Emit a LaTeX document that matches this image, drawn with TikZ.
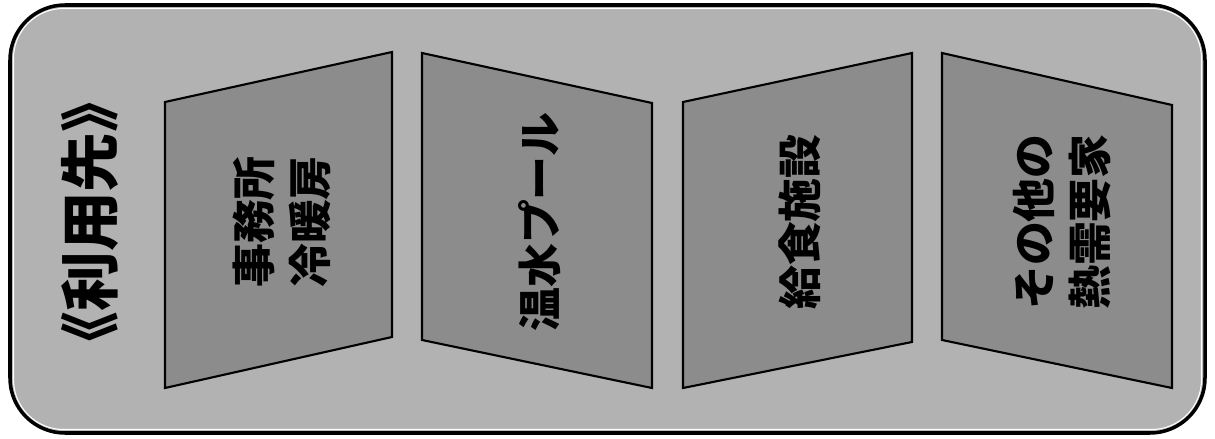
\documentclass[tikz,border=0pt]{standalone}
\usepackage{fontspec}
\newfontfamily\jpfont{Noto Sans CJK JP}
\usepackage{tikz}
\usetikzlibrary{positioning}

\begin{document}
\begin{tikzpicture}[x=0.02cm, y=-0.02cm,
    outerbox/.style={draw=black, line width=2pt, fill=black!30, rounded corners=1.1cm},
    panel/.style={draw=black, line width=1.2pt, fill=black!45},
    headtext/.style={rotate=90, font=\jpfont\bfseries\fontsize{34}{40}\selectfont},
    entry/.style={rotate=90, align=center, font=\jpfont\bfseries\fontsize{25}{32}\selectfont}]
    \useasboundingbox (0,0) rectangle (1215,439);

    % frame
    \draw[outerbox] (10,5) rectangle (1205,433);
    \draw[white, line width=0.6pt, rounded corners=1.0cm] (13.5,8.5) rectangle (1201.5,429.5);

    % panels
    \draw[panel] (165,102) -- (392,52) -- (392,337) -- (165,388) -- cycle;
    \draw[panel] (422,53) -- (652,103) -- (652,388) -- (422,340) -- cycle;
    \draw[panel] (683,102) -- (912,53) -- (912,342) -- (683,388) -- cycle;
    \draw[panel] (942,53) -- (1172,105) -- (1172,388) -- (942,340) -- cycle;

    \node[headtext] (title) at (90,222) {《利用先》};
    \node[entry] (office) at (282,222) {事務所\\冷暖房};
    \node[entry] (pool) at (540,222) {温水プール};
    \node[entry] (school) at (800,222) {給食施設};
    \node[entry] (other) at (1062,222) {その他の\\熱需要家};
\end{tikzpicture}
\end{document}
